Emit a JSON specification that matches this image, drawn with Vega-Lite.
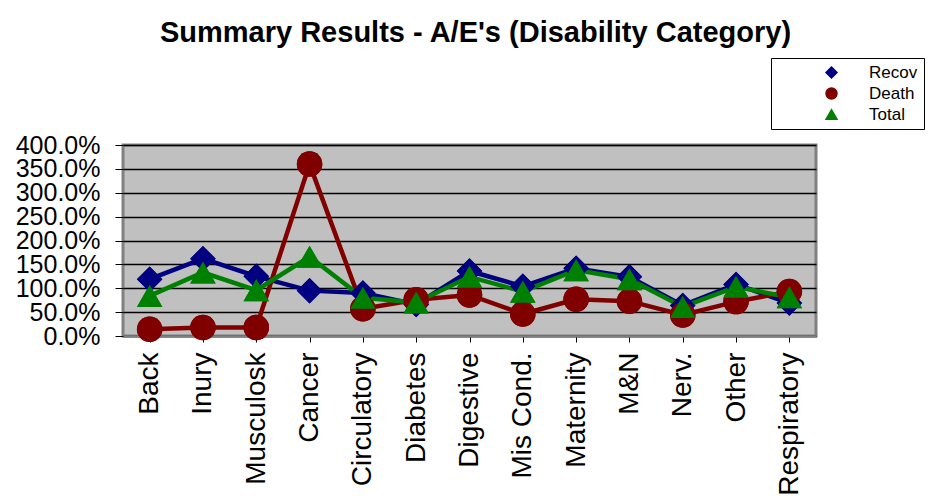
{
  "$schema": "https://vega.github.io/schema/vega-lite/v6.json",
  "width": 693,
  "height": 191,
  "autosize": {"type": "none"},
  "padding": {"left": 123, "top": 145, "right": 115, "bottom": 160},
  "background": "white",
  "title": {
    "text": "Summary Results - A/E's (Disability Category)",
    "font": "Liberation Sans",
    "fontSize": 29,
    "fontWeight": "bold",
    "color": "black",
    "anchor": "middle",
    "frame": "group",
    "dx": 6,
    "offset": 10
  },
  "config": {
    "view": {"fill": "#C0C0C0", "stroke": "#808080", "strokeWidth": 3},
    "font": "Liberation Sans"
  },
  "data": {
    "values": [
      {"cat": "Back", "series": "Recov", "value": 1.19},
      {"cat": "Inury", "series": "Recov", "value": 1.62},
      {"cat": "Musculosk", "series": "Recov", "value": 1.25},
      {"cat": "Cancer", "series": "Recov", "value": 0.95},
      {"cat": "Circulatory", "series": "Recov", "value": 0.9},
      {"cat": "Diabetes", "series": "Recov", "value": 0.66},
      {"cat": "Digestive", "series": "Recov", "value": 1.36},
      {"cat": "Mis Cond.", "series": "Recov", "value": 1.04},
      {"cat": "Maternity", "series": "Recov", "value": 1.42},
      {"cat": "M&N", "series": "Recov", "value": 1.24},
      {"cat": "Nerv.", "series": "Recov", "value": 0.64},
      {"cat": "Other", "series": "Recov", "value": 1.08},
      {"cat": "Respiratory", "series": "Recov", "value": 0.69},
      {"cat": "Back", "series": "Death", "value": 0.14},
      {"cat": "Inury", "series": "Death", "value": 0.18},
      {"cat": "Musculosk", "series": "Death", "value": 0.18},
      {"cat": "Cancer", "series": "Death", "value": 3.6},
      {"cat": "Circulatory", "series": "Death", "value": 0.57},
      {"cat": "Diabetes", "series": "Death", "value": 0.76},
      {"cat": "Digestive", "series": "Death", "value": 0.86},
      {"cat": "Mis Cond.", "series": "Death", "value": 0.46},
      {"cat": "Maternity", "series": "Death", "value": 0.77},
      {"cat": "M&N", "series": "Death", "value": 0.73},
      {"cat": "Nerv.", "series": "Death", "value": 0.44},
      {"cat": "Other", "series": "Death", "value": 0.72},
      {"cat": "Respiratory", "series": "Death", "value": 0.93},
      {"cat": "Back", "series": "Total", "value": 0.84},
      {"cat": "Inury", "series": "Total", "value": 1.33},
      {"cat": "Musculosk", "series": "Total", "value": 0.96},
      {"cat": "Cancer", "series": "Total", "value": 1.66},
      {"cat": "Circulatory", "series": "Total", "value": 0.8},
      {"cat": "Diabetes", "series": "Total", "value": 0.7},
      {"cat": "Digestive", "series": "Total", "value": 1.24},
      {"cat": "Mis Cond.", "series": "Total", "value": 0.93},
      {"cat": "Maternity", "series": "Total", "value": 1.38},
      {"cat": "M&N", "series": "Total", "value": 1.19},
      {"cat": "Nerv.", "series": "Total", "value": 0.61},
      {"cat": "Other", "series": "Total", "value": 1.03},
      {"cat": "Respiratory", "series": "Total", "value": 0.81}
    ]
  },
  "encoding": {
    "x": {
      "field": "cat",
      "type": "nominal",
      "sort": ["Back", "Inury", "Musculosk", "Cancer", "Circulatory", "Diabetes", "Digestive", "Mis Cond.", "Maternity", "M&N", "Nerv.", "Other", "Respiratory"],
      "scale": {"paddingInner": 0, "paddingOuter": 0},
      "axis": {
        "title": null,
        "labelAngle": -90,
        "labelFontSize": 28,
        "labelColor": "black",
        "labelPadding": 10,
        "bandPosition": 0,
        "labelOffset": 0,
        "tickColor": "black",
        "tickSize": 6,
        "domainColor": "#808080",
        "domainWidth": 2,
        "grid": false
      }
    },
    "y": {
      "field": "value",
      "type": "quantitative",
      "scale": {"domain": [0, 4], "nice": false},
      "axis": {
        "title": null,
        "format": ".1%",
        "values": [0, 0.5, 1, 1.5, 2, 2.5, 3, 3.5, 4],
        "labelFontSize": 25,
        "labelOverlap": false,
        "labelColor": "black",
        "labelPadding": 15,
        "tickColor": "black",
        "tickSize": 8,
        "domain": false,
        "grid": true,
        "gridColor": "black",
        "gridWidth": 1.5,
        "gridOpacity": 1
      }
    }
  },
  "layer": [
    {
      "mark": {"type": "point", "filled": true, "opacity": 1, "size": 650},
      "encoding": {
        "color": {
          "field": "series",
          "type": "nominal",
          "scale": {"domain": ["Recov", "Death", "Total"], "range": ["#000080", "#800000", "#008000"]},
          "legend": {
            "title": null,
            "orient": "none",
            "legendX": 648,
            "legendY": -87,
            "strokeColor": "black",
            "padding": 6,
            "labelFontSize": 17,
            "labelColor": "black",
            "symbolSize": 120,
            "symbolOffset": 46,
            "rowPadding": 3,
            "labelOffset": 29
          }
        },
        "shape": {
          "field": "series",
          "type": "nominal",
          "scale": {"domain": ["Recov", "Death", "Total"], "range": ["diamond", "circle", "triangle-up"]}
        }
      }
    },
    {
      "mark": {"type": "line", "strokeWidth": 4.5},
      "encoding": {
        "color": {
          "field": "series",
          "type": "nominal",
          "scale": {"domain": ["Recov", "Death", "Total"], "range": ["#000080", "#800000", "#008000"]}
        }
      }
    },
    {
      "mark": {"type": "point", "filled": true, "opacity": 1, "size": 650},
      "encoding": {
        "color": {
          "field": "series",
          "type": "nominal",
          "scale": {"domain": ["Recov", "Death", "Total"], "range": ["#000080", "#800000", "#008000"]}
        },
        "shape": {
          "field": "series",
          "type": "nominal",
          "scale": {"domain": ["Recov", "Death", "Total"], "range": ["diamond", "circle", "triangle-up"]}
        }
      }
    }
  ]
}
